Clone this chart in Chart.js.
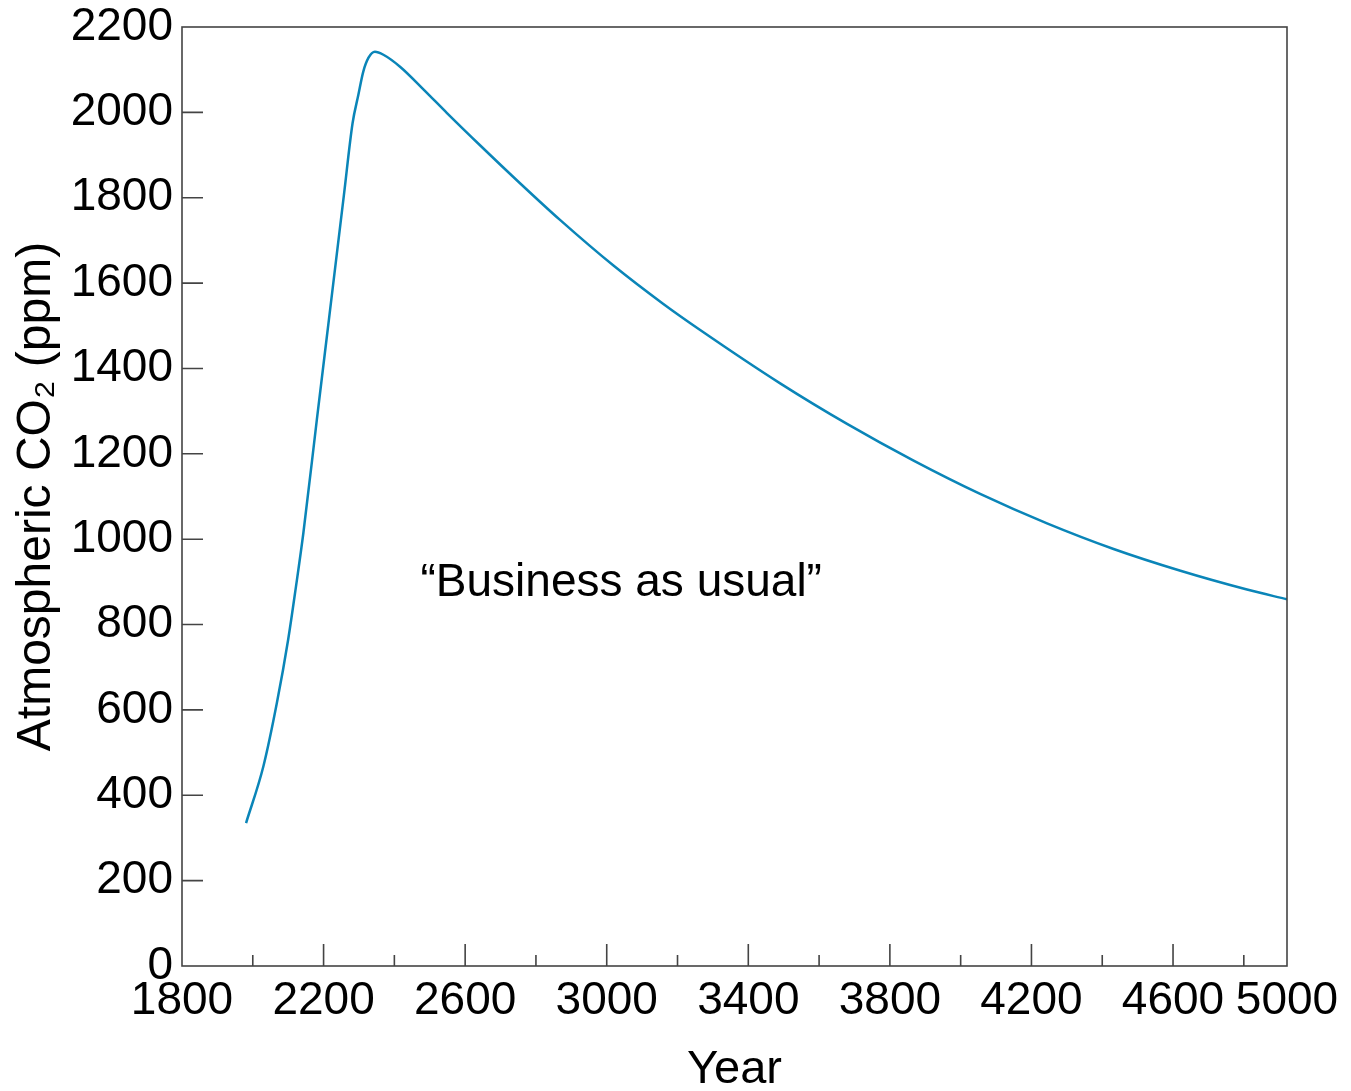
<!DOCTYPE html>
<html>
<head>
<meta charset="utf-8">
<title>Atmospheric CO2 – business as usual</title>
<script src="https://cdn.jsdelivr.net/npm/chart.js@4/dist/chart.umd.min.js"></script>
<style>
  html, body { margin: 0; padding: 0; background: #ffffff; }
  #wrap { width: 1351px; height: 1091px; }
</style>
</head>
<body>
<div id="wrap"><canvas id="c" width="1351" height="1091"></canvas></div>
<script>
// Modelled atmospheric CO2 under the "business as usual" scenario
const years = [1981, 2030, 2068, 2100, 2122, 2143, 2181, 2215, 2257, 2282, 2298, 2312, 2327,
               2345, 2369, 2416, 2482, 2548, 2642, 2755, 2868, 3019, 3160, 3264, 3490, 3679,
               3867, 4055, 4244, 4432, 4621, 4809, 4922];
const co2ppm = [335, 468, 616, 765, 889, 1015, 1280, 1514, 1803, 1975, 2040, 2095, 2128,
                2142, 2135, 2107, 2054, 1999, 1923, 1834, 1748, 1641, 1551, 1490, 1365, 1270,
                1184, 1106, 1037, 977, 926, 882, 859];

// Axis ticks
const yTickValues = [0, 200, 400, 600, 800, 1000, 1200, 1400, 1600, 1800, 2000, 2200];
const xTickYears = [1800, 2000, 2200, 2400, 2600, 2800, 3000, 3200, 3400, 3600, 3800, 4000, 4200, 4400, 4600, 4800];
const xLabelYears = [1800, 2200, 2600, 3000, 3400, 3800, 4200, 4600];
const xAxisEnd = 4922;
const xAxisEndLabel = '5000';

const noteText = '\u201CBusiness as usual\u201D';
const noteAt = { year: 3041, ppm: 868 };

const FONT = '"Liberation Sans", Arial, Helvetica, sans-serif';
Chart.defaults.font.family = FONT;
Chart.defaults.color = '#000000';

// Frame, inward tick marks and the scenario note
const framePlugin = {
  id: 'frame',
  afterDatasetsDraw(chart) {
    const { ctx, chartArea: a, scales: { x, y } } = chart;
    ctx.save();
    ctx.strokeStyle = '#444444';
    ctx.lineWidth = 1.6;
    ctx.strokeRect(a.left, a.top, a.right - a.left, a.bottom - a.top);

    ctx.beginPath();
    yTickValues.forEach(v => {
      if (v <= y.min || v >= y.max) return;
      const py = y.getPixelForValue(v);
      ctx.moveTo(a.left, py);
      ctx.lineTo(a.left + 21, py);
    });
    xTickYears.forEach(v => {
      if (v <= x.min || v >= x.max) return;
      const px = x.getPixelForValue(v);
      const len = xLabelYears.includes(v) ? 22 : 11;
      ctx.moveTo(px, a.bottom);
      ctx.lineTo(px, a.bottom - len);
    });
    ctx.stroke();

    ctx.font = '46px ' + FONT;
    ctx.fillStyle = '#000000';
    ctx.textAlign = 'center';
    ctx.textBaseline = 'alphabetic';
    ctx.fillText(noteText, x.getPixelForValue(noteAt.year), y.getPixelForValue(noteAt.ppm));
    ctx.restore();
  }
};

new Chart(document.getElementById('c'), {
  type: 'line',
  data: {
    datasets: [{
      data: years.map((yr, i) => ({ x: yr, y: co2ppm[i] })),
      borderColor: '#0a85b8',
      borderWidth: 2.5,
      pointRadius: 0,
      fill: false,
      cubicInterpolationMode: 'monotone'
    }]
  },
  options: {
    responsive: false,
    devicePixelRatio: 1,
    animation: false,
    layout: { padding: { top: 27, right: 64, left: 0, bottom: 0 } },
    plugins: { legend: { display: false }, tooltip: { enabled: false } },
    scales: {
      x: {
        type: 'linear',
        min: 1800,
        max: xAxisEnd,
        afterBuildTicks: s => { s.ticks = xTickYears.concat([xAxisEnd]).map(v => ({ value: v })); },
        afterFit: s => { s.height = 125; },
        grid: { display: false },
        border: { display: false },
        ticks: {
          autoSkip: false,
          maxRotation: 0,
          padding: 0,
          font: { size: 46 },
          callback: v => (v === xAxisEnd ? xAxisEndLabel : (xLabelYears.includes(v) ? String(v) : ''))
        },
        title: { display: true, text: 'Year', font: { size: 47, lineHeight: 1 }, padding: { top: 0, bottom: -3 } }
      },
      y: {
        type: 'linear',
        min: 0,
        max: 2200,
        afterBuildTicks: s => { s.ticks = yTickValues.map(v => ({ value: v })); },
        afterFit: s => { s.width = 182; },
        grid: { display: false },
        border: { display: false },
        ticks: { padding: 1, font: { size: 46, lineHeight: 0.75 }, callback: v => String(v) },
        title: { display: true, text: 'Atmospheric CO\u2082 (ppm)', font: { size: 48 }, padding: { top: 8, bottom: 0 } }
      }
    }
  },
  plugins: [framePlugin]
});
</script>
</body>
</html>
